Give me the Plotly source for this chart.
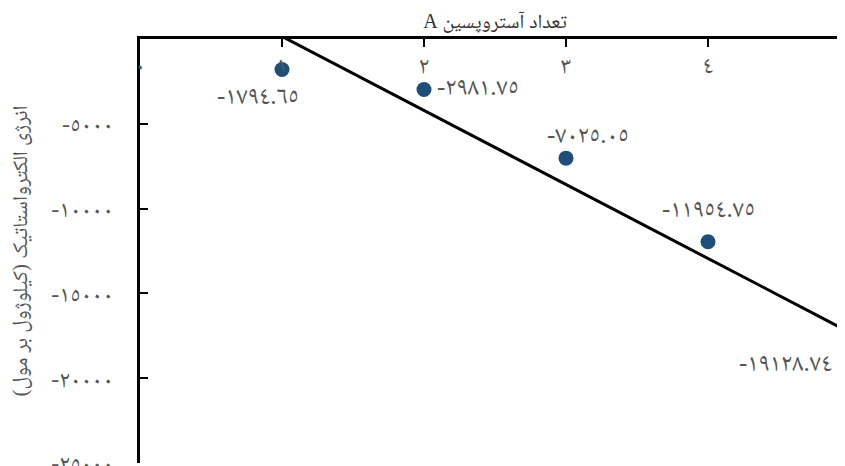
import numpy as np
import plotly.graph_objects as go

# ---- data ----
counts = [1, 2, 3, 4, 5]
energy = [-1794.65, -2981.75, -7025.05, -11954.75, -19128.74]
x_tick_vals = [0, 1, 2, 3, 4, 5]
y_tick_vals = [0, -5000, -10000, -15000, -20000, -25000]
x_title = "تعداد آستروپسین A"
y_title = "انرژی الکترواستاتیک (کیلوژول بر مول)"

AR = str.maketrans("0123456789", "٠١٢٣٤٥٦٧٨٩")
RLE, PDF = "\u202b", "\u202c"


def ar(s):
    return str(s).translate(AR)


energy_labels = [ar(f"{v:.2f}") for v in energy]
x_tick_text = [ar(v) for v in x_tick_vals]
y_tick_text = [ar(v) for v in y_tick_vals]

# linear trend from the data
slope, intercept = np.polyfit(counts, energy, 1)
fit_x = [counts[0], counts[-1]]
fit_y = [slope * x + intercept for x in fit_x]

FONT = "Times New Roman, Noto Naskh Arabic, serif"
GRAY = "#555555"

fig = go.Figure()
fig.add_trace(go.Scatter(x=fit_x, y=fit_y, mode="lines",
                         line=dict(color="black", width=3),
                         showlegend=False, hoverinfo="skip"))
fig.add_trace(go.Scatter(x=counts, y=energy, mode="markers",
                         marker=dict(color="#1f4e79", size=15),
                         cliponaxis=False, showlegend=False))

# label placement styles: (xshift, yshift, xanchor)
label_styles = [(-24, -26, "center"), (11, 3, "left"), (22, 24, "center"),
                (0, 33, "center"), (-16, 1, "right")]
for xv, yv, t, (dx, dy, xa) in zip(counts, energy, energy_labels, label_styles):
    fig.add_annotation(x=xv, y=yv, text=t, showarrow=False,
                       xshift=dx, yshift=dy, xanchor=xa, yanchor="middle",
                       font=dict(family=FONT, size=25, color=GRAY))

fig.update_layout(
    width=845, height=466,
    margin=dict(l=132, r=3, t=31, b=11, autoexpand=False),
    plot_bgcolor="white", paper_bgcolor="white",
    font=dict(family=FONT, color=GRAY),
)
fig.update_xaxes(
    side="top", range=[0, 5], automargin=False,
    tickvals=x_tick_vals, ticktext=x_tick_text,
    ticks="inside", ticklen=8, tickwidth=2, tickcolor="black",
    ticklabelposition="inside", ticklabelstandoff=11, ticklabeloverflow="hide past div",
    tickfont=dict(family=FONT, size=24, color=GRAY),
    showline=True, linecolor="black", linewidth=3,
    showgrid=False, zeroline=False,
    title=dict(text=RLE + x_title + PDF, font=dict(family=FONT, size=20, color="#333333"),
               standoff=19),
)
fig.update_yaxes(
    range=[-25000, 0], automargin=False,
    tickvals=y_tick_vals, ticktext=y_tick_text,
    ticks="inside", ticklen=8, tickwidth=2, tickcolor="black",
    ticklabelstandoff=19, ticklabeloverflow="allow",
    tickfont=dict(family=FONT, size=24, color=GRAY),
    showline=True, linecolor="black", linewidth=3,
    showgrid=False, zeroline=False,
    title=dict(text=y_title, font=dict(family=FONT, size=21, color=GRAY), standoff=18),
)

fig.write_html("out.html")
